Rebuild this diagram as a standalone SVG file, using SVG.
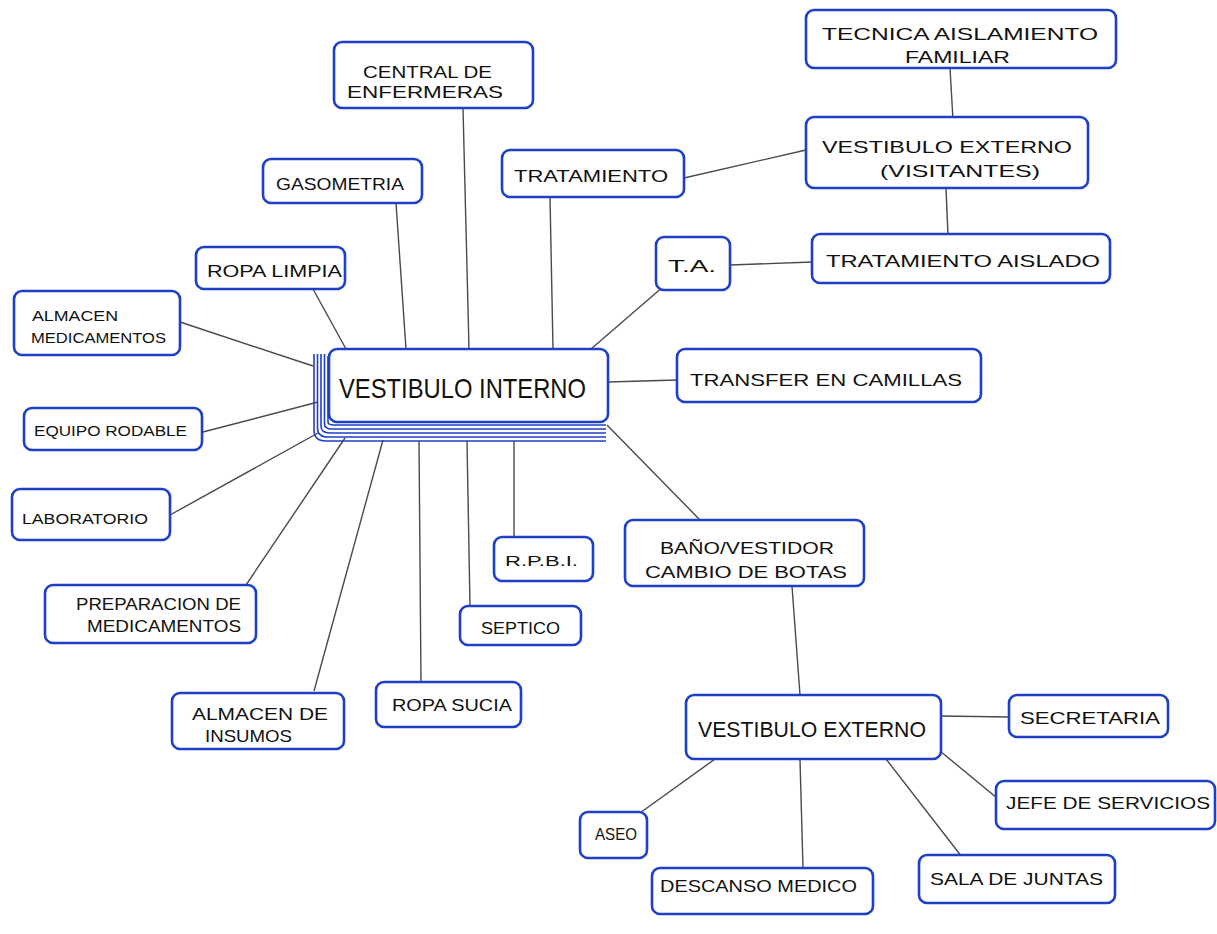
<svg xmlns="http://www.w3.org/2000/svg" width="1217" height="934" viewBox="0 0 1217 934">
<style>
.box{fill:#fff;stroke:#1e40c8;stroke-width:2.6;stroke-linejoin:round}
.stk{fill:none;stroke:#1e40c8;stroke-width:1.6}
.lbl{font-family:"Liberation Sans",Arial,sans-serif;font-size:17px;fill:#111}
.sm{font-size:14px}
.big{font-size:28px}
.mid{font-size:22px}
#connectors line,#connectors polyline{stroke:#4a4a4a;stroke-width:1.4;fill:none}
</style>
<rect width="1217" height="934" fill="#fff"/>
<g id="connectors">
<line x1="950" y1="68" x2="953" y2="120"/>
<line x1="946" y1="188" x2="948" y2="236"/>
<line x1="684" y1="178" x2="806" y2="150"/>
<line x1="730" y1="265" x2="812" y2="262"/>
<line x1="664" y1="286" x2="591" y2="349"/>
<line x1="550" y1="197" x2="553" y2="349"/>
<line x1="463" y1="108" x2="469" y2="349"/>
<line x1="396" y1="203" x2="406" y2="349"/>
<line x1="313" y1="289" x2="346" y2="349"/>
<line x1="180" y1="322" x2="313" y2="366"/>
<line x1="203" y1="432" x2="318" y2="402"/>
<line x1="170" y1="515" x2="318" y2="433"/>
<line x1="246" y1="585" x2="345" y2="438"/>
<line x1="314" y1="691" x2="383" y2="440"/>
<line x1="421" y1="682" x2="419" y2="441"/>
<line x1="470" y1="606" x2="467" y2="441"/>
<line x1="514" y1="537" x2="514" y2="441"/>
<line x1="608" y1="382" x2="677" y2="380"/>
<line x1="607" y1="425" x2="700" y2="520"/>
<line x1="792" y1="586" x2="800" y2="695"/>
<line x1="941" y1="716" x2="1009" y2="717"/>
<line x1="940" y1="751" x2="997" y2="798"/>
<line x1="886" y1="759" x2="962" y2="857"/>
<line x1="800" y1="760" x2="803" y2="868"/>
<line x1="715" y1="759" x2="633" y2="818"/>
</g>
<g id="n-tecnica"><rect class="box" x="806" y="10" width="310" height="58" rx="8"/>
<text class="lbl" x="822" y="40" textLength="276" lengthAdjust="spacingAndGlyphs">TECNICA AISLAMIENTO</text>
<text class="lbl" x="905" y="63" textLength="105" lengthAdjust="spacingAndGlyphs">FAMILIAR</text></g>
<g id="n-vest-ext-vis"><rect class="box" x="806" y="117" width="282" height="71" rx="8"/>
<text class="lbl" x="822" y="153" textLength="250" lengthAdjust="spacingAndGlyphs">VESTIBULO EXTERNO</text>
<text class="lbl" x="880" y="177" textLength="160" lengthAdjust="spacingAndGlyphs">(VISITANTES)</text></g>
<g id="n-trat-aislado"><rect class="box" x="812" y="234" width="298" height="49" rx="8"/>
<text class="lbl" x="826" y="267" textLength="274" lengthAdjust="spacingAndGlyphs">TRATAMIENTO AISLADO</text></g>
<g id="n-ta"><rect class="box" x="656" y="237" width="74" height="53" rx="8"/>
<text class="lbl" x="668" y="272" textLength="48" lengthAdjust="spacingAndGlyphs">T.A.</text></g>
<g id="n-tratamiento"><rect class="box" x="502" y="150" width="182" height="47" rx="8"/>
<text class="lbl" x="514" y="182" textLength="154" lengthAdjust="spacingAndGlyphs">TRATAMIENTO</text></g>
<g id="n-central"><rect class="box" x="334" y="42" width="199" height="66" rx="8"/>
<text class="lbl" x="363" y="78" textLength="129" lengthAdjust="spacingAndGlyphs">CENTRAL DE</text>
<text class="lbl" x="347" y="98" textLength="156" lengthAdjust="spacingAndGlyphs">ENFERMERAS</text></g>
<g id="n-gasometria"><rect class="box" x="263" y="159" width="159" height="44" rx="8"/>
<text class="lbl" x="276" y="190" textLength="128" lengthAdjust="spacingAndGlyphs">GASOMETRIA</text></g>
<g id="n-ropa-limpia"><rect class="box" x="196" y="247" width="149" height="42" rx="8"/>
<text class="lbl" x="207" y="277" textLength="135" lengthAdjust="spacingAndGlyphs">ROPA LIMPIA</text></g>
<g id="n-almacen-med"><rect class="box" x="14" y="291" width="166" height="64" rx="8"/>
<text class="lbl sm" x="32" y="321" textLength="86" lengthAdjust="spacingAndGlyphs">ALMACEN</text>
<text class="lbl sm" x="31" y="343" textLength="135" lengthAdjust="spacingAndGlyphs">MEDICAMENTOS</text></g>
<g id="n-vest-interno">
<path class="stk" d="M314,354 V430 Q314,441 326,441 H606"/>
<path class="stk" d="M317.5,354 V428 Q317.5,437 328,437 H606"/>
<path class="stk" d="M321,354 V426 Q321,433 330,433 H606"/>
<path class="stk" d="M324.5,354 V424 Q324.5,429 332,429 H606"/>
<path class="stk" d="M328,356 V422 Q328,425 334,425 H606"/>
<rect class="box" x="329" y="349" width="279" height="73" rx="8"/>
<text class="lbl big" x="339" y="398" textLength="247" lengthAdjust="spacingAndGlyphs">VESTIBULO INTERNO</text></g>
<g id="n-transfer"><rect class="box" x="677" y="349" width="304" height="53" rx="8"/>
<text class="lbl" x="690" y="386" textLength="272" lengthAdjust="spacingAndGlyphs">TRANSFER EN CAMILLAS</text></g>
<g id="n-equipo"><rect class="box" x="24" y="408" width="178" height="42" rx="8"/>
<text class="lbl sm" x="34" y="436" textLength="153" lengthAdjust="spacingAndGlyphs">EQUIPO RODABLE</text></g>
<g id="n-laboratorio"><rect class="box" x="12" y="489" width="158" height="51" rx="8"/>
<text class="lbl sm" x="22" y="524" textLength="126" lengthAdjust="spacingAndGlyphs">LABORATORIO</text></g>
<g id="n-rpbi"><rect class="box" x="494" y="537" width="99" height="44" rx="8"/>
<text class="lbl sm" x="505" y="566" textLength="73" lengthAdjust="spacingAndGlyphs">R.P.B.I.</text></g>
<g id="n-bano"><rect class="box" x="625" y="520" width="239" height="66" rx="8"/>
<text class="lbl" x="660" y="554" textLength="174" lengthAdjust="spacingAndGlyphs">BAÑO/VESTIDOR</text>
<text class="lbl" x="645" y="578" textLength="202" lengthAdjust="spacingAndGlyphs">CAMBIO DE BOTAS</text></g>
<g id="n-preparacion"><rect class="box" x="45" y="585" width="211" height="58" rx="8"/>
<text class="lbl" x="76" y="610" textLength="165" lengthAdjust="spacingAndGlyphs">PREPARACION DE</text>
<text class="lbl" x="87" y="632" textLength="154" lengthAdjust="spacingAndGlyphs">MEDICAMENTOS</text></g>
<g id="n-septico"><rect class="box" x="460" y="606" width="121" height="39" rx="8"/>
<text class="lbl" x="481" y="634" textLength="79" lengthAdjust="spacingAndGlyphs">SEPTICO</text></g>
<g id="n-almacen-ins"><rect class="box" x="172" y="693" width="172" height="56" rx="8"/>
<text class="lbl" x="192" y="720" textLength="136" lengthAdjust="spacingAndGlyphs">ALMACEN DE</text>
<text class="lbl" x="205" y="742" textLength="87" lengthAdjust="spacingAndGlyphs">INSUMOS</text></g>
<g id="n-ropa-sucia"><rect class="box" x="376" y="682" width="145" height="45" rx="8"/>
<text class="lbl" x="392" y="711" textLength="120" lengthAdjust="spacingAndGlyphs">ROPA SUCIA</text></g>
<g id="n-vest-ext"><rect class="box" x="686" y="695" width="255" height="64" rx="8"/>
<text class="lbl mid" x="698" y="737" textLength="228" lengthAdjust="spacingAndGlyphs">VESTIBULO EXTERNO</text></g>
<g id="n-secretaria"><rect class="box" x="1009" y="695" width="159" height="42" rx="8"/>
<text class="lbl" x="1020" y="724" textLength="140" lengthAdjust="spacingAndGlyphs">SECRETARIA</text></g>
<g id="n-jefe"><rect class="box" x="996" y="781" width="219" height="48" rx="8"/>
<text class="lbl" x="1006" y="809" textLength="204" lengthAdjust="spacingAndGlyphs">JEFE DE SERVICIOS</text></g>
<g id="n-aseo"><rect class="box" x="580" y="812" width="67" height="46" rx="8"/>
<text class="lbl" x="595" y="840" textLength="42" lengthAdjust="spacingAndGlyphs">ASEO</text></g>
<g id="n-descanso"><rect class="box" x="652" y="868" width="221" height="46" rx="8"/>
<text class="lbl" x="660" y="892" textLength="197" lengthAdjust="spacingAndGlyphs">DESCANSO MEDICO</text></g>
<g id="n-sala"><rect class="box" x="919" y="855" width="196" height="48" rx="8"/>
<text class="lbl" x="930" y="885" textLength="173" lengthAdjust="spacingAndGlyphs">SALA DE JUNTAS</text></g>
</svg>
